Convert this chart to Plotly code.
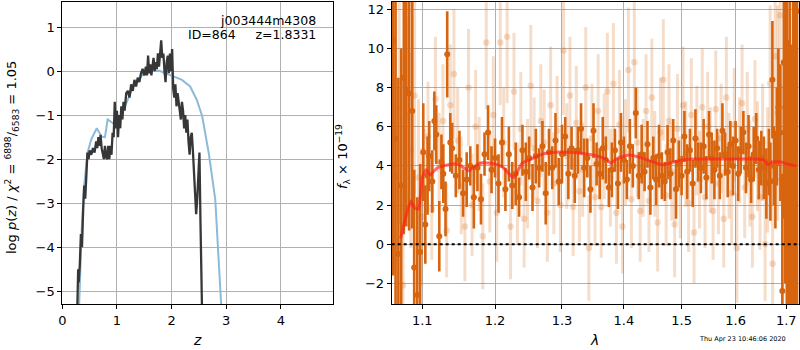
import plotly.graph_objects as go

# ---------------- left panel: p(z) ----------------
pz_z = [0.27, 0.29, 0.30, 0.32, 0.34, 0.36, 0.38, 0.40, 0.42, 0.44, 0.46, 0.48, 0.50, 0.53, 0.56,
        0.59, 0.62, 0.64, 0.66, 0.68, 0.70, 0.72, 0.74, 0.76, 0.78, 0.80, 0.82, 0.84, 0.86, 0.88,
        0.90, 0.92, 0.94, 0.96, 0.98, 1.00, 1.02, 1.04, 1.06, 1.08, 1.10, 1.12, 1.14, 1.17, 1.20,
        1.23, 1.26, 1.29, 1.32, 1.35, 1.38, 1.41, 1.44, 1.47, 1.50, 1.53, 1.55, 1.57, 1.59, 1.61,
        1.63, 1.65, 1.67, 1.69, 1.71, 1.73, 1.75, 1.77, 1.79, 1.81, 1.83, 1.85, 1.87, 1.89, 1.91,
        1.93, 1.95, 1.97, 1.99, 2.01, 2.03, 2.05, 2.07, 2.09, 2.11, 2.13, 2.15, 2.17, 2.19, 2.21,
        2.23, 2.25, 2.27, 2.29, 2.31, 2.33, 2.35, 2.37, 2.39, 2.41, 2.43, 2.45, 2.47, 2.49, 2.51,
        2.53, 2.56]
pz_logp = [-5.6, -4.5, -4.8, -4.4, -3.7, -4.0, -3.2, -2.6, -2.9, -2.1, -1.85, -2.0, -1.8, -1.9, -1.75,
           -1.85, -1.6, -1.75, -1.5, -1.7, -1.45, -1.75, -1.85, -2.0, -1.7, -1.95, -2.0, -1.7, -2.0, -1.7,
           -1.9, -1.4, -1.5, -0.7, -1.3, -0.9, -1.5, -1.0, -1.3, -0.8, -1.1, -0.7, -0.9, -0.5, -0.45,
           -0.6, -0.3, -0.45, -0.2, -0.35, -0.15, -0.25, -0.05, 0.05, -0.1, 0.1, -0.1, 0.35, -0.05, 0.15,
           -0.1, 0.1, 0.3, 0.0, 0.2, 0.05, 0.4, 0.1, 0.45, 0.7, 0.3, 0.4, 0.0, -0.25, 0.2,
           0.35, -0.05, 0.4, 0.0, 0.5, -0.4, -0.6, -0.3, -0.8, -0.5, -0.7, -0.9, -1.1, -0.7, -0.9,
           -1.3, -1.0, -1.4, -1.1, -1.6, -1.9, -1.5, -1.4, -1.8, -2.2, -2.7, -3.25, -2.9, -2.5, -1.85,
           -3.5, -5.6]

prior_z = [0.30, 0.355, 0.40, 0.46, 0.53, 0.63, 0.72, 0.78, 0.83, 0.97, 1.12, 1.30, 1.49, 1.61,
           1.79, 1.98, 2.19, 2.34, 2.46, 2.56, 2.68, 2.80, 2.89, 2.93]
prior_logp = [-5.6, -3.6, -2.6, -1.86, -1.55, -1.3, -1.49, -1.5, -1.1, -1.22, -0.88, -0.35, -0.05, 0.05,
              0.0, -0.1, -0.2, -0.35, -0.65, -1.02, -1.86, -2.92, -5.27, -5.8]

# ---------------- right panel: spectrum ----------------
dark_wave = [1.0625, 1.0654, 1.0690, 1.0726, 1.0760, 1.0792, 1.0829, 1.0869, 1.0894, 1.0934,
             1.0972, 1.1013, 1.1040, 1.1070, 1.1092, 1.1133, 1.1160, 1.1186, 1.1226, 1.1255,
             1.1280, 1.1310, 1.1333, 1.1375,
             1.140, 1.145, 1.150, 1.155, 1.160, 1.165, 1.170, 1.175, 1.180, 1.185,
             1.190, 1.195, 1.200, 1.205, 1.210, 1.215, 1.220, 1.225, 1.230, 1.235,
             1.240, 1.245, 1.250, 1.255, 1.260, 1.265, 1.270, 1.275, 1.280, 1.285,
             1.290, 1.295, 1.300, 1.305, 1.310, 1.315, 1.320, 1.325, 1.330, 1.335,
             1.340, 1.345, 1.350, 1.355, 1.360, 1.365, 1.370, 1.375, 1.380, 1.385,
             1.390, 1.395, 1.400, 1.405, 1.410, 1.415, 1.420, 1.425, 1.430, 1.435,
             1.440, 1.445, 1.450, 1.455, 1.460, 1.465, 1.470, 1.475, 1.480, 1.485,
             1.490, 1.495, 1.500, 1.505, 1.510, 1.515, 1.520, 1.525, 1.530, 1.535,
             1.540, 1.545, 1.550, 1.555, 1.560, 1.565, 1.570, 1.575, 1.580, 1.585,
             1.590, 1.595, 1.600, 1.605, 1.610, 1.615, 1.620, 1.625, 1.630, 1.635,
             1.640, 1.645, 1.650, 1.655, 1.660, 1.665,
             1.668, 1.672, 1.675, 1.678, 1.681, 1.684, 1.688, 1.692, 1.695, 1.698,
             1.701, 1.704, 1.707, 1.710, 1.714, 1.718, 1.722]
dark_flux = [10.4, 5.4, -0.5, 3.0, 8.5, 7.9, 7.7, 6.8, -1.2, -2.6,
             -0.4, 4.7, 1.0, 3.5, 4.5, 3.2, 6.3, 5.6, 0.4, 4.2,
             3.6, 1.8, 9.7, 5.2,
             4.9, 3.5, 4.3, 2.6, 3.3, 4.0, 2.4, 3.9, 2.3, 4.6,
             5.7, 3.8, 4.4, 3.1, 5.2, 2.8, 4.6, 3.0, 3.6, 2.4,
             4.8, 3.7, 4.4, 2.9, 4.5, 3.9, 5.0, 2.6, 4.7, 3.9,
             5.3, 3.2, 4.6, 5.5, 3.6, 4.9, 3.5, 4.8, 5.9, 3.9,
             4.4, 2.8, 5.8, 4.1, 3.6, 4.9, 4.3, 2.9, 3.8, 4.8,
             3.1, 5.2, 4.3, 3.3, 5.0, 4.0, 6.7, 3.5, 4.6, 3.7,
             5.1, 2.9, 4.4, 3.3, 4.5, 3.5, 3.2, 4.7, 3.6, 5.3,
             2.8, 4.1, 3.5, 5.5, 3.7, 4.8, 3.1, 5.4, 4.2, 3.9,
             5.0, 3.4, 5.6, 4.4, 3.8, 4.9, 3.5, 5.8, 4.6, 3.7,
             5.1, 4.0, 5.3, 3.6, 4.8, 5.7, 3.9, 5.0, 3.3, 4.6,
             5.4, 3.8, 4.4, 3.9, 3.1, 4.2,
             3.2, 8.4, 4.0, 3.3, 5.5, 7.0, 5.7, -2.4, 9.3, 7.0,
             3.0, 0.45, 4.0, -1.8, -1.2, 5.0, 11.9]
dark_err = [12, 9, 9, 7, 8, 7, 7, 6, 5, 5,
            4.5, 2.5, 2.0, 2.0, 1.8, 1.6, 1.5, 1.5, 1.8, 1.4,
            1.5, 1.4, 2.2, 1.5,
            1.3, 1.1, 1.5, 1.2, 1.4, 1.0, 1.6, 1.2, 1.3, 1.1,
            1.4, 1.2, 1.0, 1.5, 1.3, 1.1, 1.4, 1.2, 1.6, 1.0,
            1.3, 1.5, 1.1, 1.2, 1.4, 1.0, 1.3, 1.6, 1.2, 1.1,
            1.4, 1.2, 1.5, 1.0, 1.3, 1.1, 1.4, 1.2, 1.3, 1.5,
            1.0, 1.2, 1.4, 1.1, 1.3, 1.6, 1.2, 1.0, 1.4, 1.1,
            1.3, 1.5, 1.2, 1.0, 1.4, 1.1, 1.3, 1.2, 1.5, 1.0,
            1.2, 1.4, 1.1, 1.3, 1.6, 1.2, 1.0, 1.4, 1.3, 1.1,
            1.5, 1.2, 1.0, 1.3, 1.4, 1.1, 1.2, 1.5, 1.0, 1.3,
            1.4, 1.1, 1.2, 1.3, 1.5, 1.0, 1.2, 1.4, 1.1, 1.3,
            1.2, 1.5, 1.0, 1.4, 1.2, 1.1, 1.3, 1.6, 1.2, 1.4,
            1.3, 1.5, 1.4, 1.6, 1.8, 1.7,
            2.0, 3.0, 2.0, 2.5, 2.5, 3.0, 3.5, 6.0, 8.0, 9.0,
            10, 10, 12, 12, 14, 15, 15]

light_wave = [1.0650, 1.0700, 1.0750, 1.0800, 1.0850, 1.0900, 1.0950, 1.0990,
              1.1025, 1.1075, 1.1125, 1.1175, 1.1225, 1.1275, 1.1325, 1.1375, 1.1425, 1.1475,
              1.1525, 1.1575, 1.1625, 1.1675, 1.1725, 1.1775, 1.1825, 1.1875, 1.1925, 1.1975,
              1.2025, 1.2075, 1.2125, 1.2175, 1.2225, 1.2275, 1.2325, 1.2375, 1.2425, 1.2475,
              1.2525, 1.2575, 1.2625, 1.2675, 1.2725, 1.2775, 1.2825, 1.2875, 1.2925, 1.2975,
              1.3025, 1.3075, 1.3125, 1.3175, 1.3225, 1.3275, 1.3325, 1.3375, 1.3425, 1.3475,
              1.3525, 1.3575, 1.3625, 1.3675, 1.3725, 1.3775, 1.3825, 1.3875, 1.3925, 1.3975,
              1.4025, 1.4075, 1.4125, 1.4175, 1.4225, 1.4275, 1.4325, 1.4375, 1.4425, 1.4475,
              1.4525, 1.4575, 1.4625, 1.4675, 1.4725, 1.4775, 1.4825, 1.4875, 1.4925, 1.4975,
              1.5025, 1.5075, 1.5125, 1.5175, 1.5225, 1.5275, 1.5325, 1.5375, 1.5425, 1.5475,
              1.5525, 1.5575, 1.5625, 1.5675, 1.5725, 1.5775, 1.5825, 1.5875, 1.5925, 1.5975,
              1.6025, 1.6075, 1.6125, 1.6175, 1.6225, 1.6275, 1.6325, 1.6375, 1.6425, 1.6475,
              1.6525, 1.6575, 1.6625,
              1.6675, 1.6725, 1.6775, 1.6825, 1.6875, 1.6925, 1.6975, 1.7025, 1.7075, 1.7125, 1.7175]
light_flux = [3.5, 7.0, -2.1, 6.6, 4.8, 7.6, 3.4, 1.4,
              2.9, 5.5, 1.8, 7.4, 4.2, 6.3, 0.7, 7.1, 8.7, 5.3,
              3.0, 0.9, 8.0, 2.0, 6.0, 4.1, 0.4, 10.3, 3.2, 6.6,
              1.6, 10.3, 5.2, 10.6, 0.9, 7.8, 2.6, 5.9, 1.3, 3.6,
              8.1, 4.9, 2.2, 6.3, 5.2, 1.6, 7.1, 3.1, 5.8, 2.0,
              9.9, 4.5, 7.6, 1.9, 6.2, 2.7, 3.8, 8.0, -0.2, 5.4,
              2.4, 6.8, 1.9, 5.0, 7.8, 3.4, 8.2, 1.6, 6.1, 0.9,
              4.7, 8.9, 2.3, 9.3, 5.2, 1.7, 3.9, 6.8, 2.2, 7.5,
              4.1, 1.1, 5.7, 8.4, 2.5, 6.3, 3.7, 1.0, 5.9, 2.9,
              7.1, 4.6, 2.1, 6.6, 0.6, 5.3, 3.3, 7.0, 2.4, 6.0,
              4.3, 1.7, 6.9, 3.1, 5.4, 1.3, 7.5, 4.0, 2.6, 6.1,
              -0.2, 4.8, 7.2, 2.9, 5.9, 3.6, 1.4, 6.4, 4.5, 2.4,
              5.2, 0.0, 3.8,
              8.2, -1.0, 9.6, 6.7, 11.7, 2.1, 9.2, 5.0, 8.4, -0.5, 7.3]
light_err = [5.0, 6.0, 5.0, 5.0, 5.0, 5.0, 4.0, 3.5,
             3.0, 2.8, 2.6, 3.2, 2.5, 2.9, 2.4, 3.1, 3.3, 2.7,
             2.5, 2.8, 3.0, 2.6, 2.9, 2.4, 2.7, 3.4, 2.6, 3.0,
             2.5, 3.2, 2.8, 3.4, 2.7, 3.0, 2.6, 2.9, 2.5, 2.8,
             3.1, 2.6, 2.4, 2.9, 2.7, 2.5, 3.0, 2.6, 2.8, 2.4,
             3.3, 2.7, 3.0, 2.5, 2.9, 2.6, 2.4, 3.1, 2.7, 2.8,
             2.5, 2.9, 2.6, 2.7, 3.0, 2.5, 3.1, 2.6, 2.8, 2.4,
             2.7, 3.2, 2.5, 3.3, 2.8, 2.6, 2.5, 2.9, 2.6, 3.0,
             2.7, 2.5, 2.8, 3.1, 2.6, 2.9, 2.5, 2.7, 2.8, 2.6,
             3.0, 2.7, 2.5, 2.9, 2.6, 2.8, 2.5, 3.0, 2.6, 2.8,
             2.7, 2.5, 3.0, 2.6, 2.8, 2.5, 3.1, 2.7, 2.6, 2.9,
             2.8, 2.7, 3.0, 2.6, 2.9, 2.7, 2.6, 3.0, 2.8, 2.7,
             3.0, 2.9, 3.2,
             4.0, 5.0, 5.0, 5.5, 6.0, 6.0, 6.5, 7.0, 7.0, 7.5, 8.0]

model_wave = [1.072, 1.078, 1.085, 1.090, 1.095, 1.100, 1.105, 1.110, 1.120, 1.140, 1.150, 1.163,
              1.170, 1.180, 1.200, 1.210, 1.222, 1.227, 1.240, 1.250, 1.270, 1.290, 1.310, 1.330,
              1.350, 1.370, 1.378, 1.390, 1.410, 1.430, 1.450, 1.466, 1.480, 1.500, 1.520, 1.550,
              1.600, 1.640, 1.655, 1.663, 1.672, 1.690, 1.700, 1.710, 1.720]
model_flux = [0.3, 1.3, 2.2, 1.85, 1.8, 3.4, 3.8, 3.55, 3.9, 4.1, 4.05, 3.75,
              3.95, 4.15, 4.1, 3.95, 3.55, 3.4, 4.15, 4.3, 4.6, 4.7, 4.7, 4.65,
              4.55, 4.35, 4.15, 4.4, 4.55, 4.4, 4.2, 4.05, 4.15, 4.3, 4.35, 4.35,
              4.35, 4.35, 4.3, 4.05, 4.2, 4.2, 4.1, 4.05, 4.0]

lam_ticks = [1.1, 1.2, 1.3, 1.4, 1.5, 1.6, 1.7]

# ---------------- figure ----------------
FONT = "DejaVu Sans"
ORANGE = "rgb(215,100,14)"
ORANGE_L = "rgba(215,100,14,0.22)"
GRID = "#b0b0b0"

fig = go.Figure()

fig.add_trace(go.Scatter(x=prior_z, y=prior_logp, mode="lines",
                         line=dict(color="rgb(140,186,217)", width=2),
                         xaxis="x", yaxis="y", hoverinfo="skip"))
fig.add_trace(go.Scatter(x=pz_z, y=pz_logp, mode="lines",
                         line=dict(color="rgb(55,55,55)", width=2.3),
                         xaxis="x", yaxis="y", hoverinfo="skip"))

fig.add_trace(go.Scatter(x=light_wave, y=light_flux, mode="markers",
                         marker=dict(color=ORANGE_L, size=6.5, line=dict(width=0)),
                         error_y=dict(type="data", array=light_err, color=ORANGE_L,
                                      thickness=3, width=0),
                         xaxis="x2", yaxis="y2", hoverinfo="skip"))
fig.add_trace(go.Scatter(x=dark_wave, y=dark_flux, mode="markers",
                         marker=dict(color=ORANGE, size=6, line=dict(width=0)),
                         error_y=dict(type="data", array=dark_err, color=ORANGE,
                                      thickness=2.6, width=0),
                         xaxis="x2", yaxis="y2", hoverinfo="skip"))
fig.add_trace(go.Scatter(x=model_wave, y=model_flux, mode="lines",
                         line=dict(color="rgba(255,30,30,0.65)", width=3, shape="spline",
                                   smoothing=0.5),
                         xaxis="x2", yaxis="y2", hoverinfo="skip"))

fig.add_shape(type="line", xref="x2 domain", yref="y2", x0=0, x1=1, y0=0, y1=0,
              line=dict(color="black", width=2, dash="dot"))

axis_common = dict(showline=True, linecolor="black", linewidth=1, mirror=True,
                   showgrid=True, gridcolor=GRID, gridwidth=1, zeroline=False,
                   ticks="outside", ticklen=4, tickcolor="black",
                   tickfont=dict(family=FONT, size=13, color="black"), automargin=False)

fig.update_layout(
    width=800, height=350,
    margin=dict(l=0, r=0, t=0, b=0),
    paper_bgcolor="white", plot_bgcolor="white",
    showlegend=False,
    font=dict(family=FONT, color="black"),
    xaxis=dict(domain=[0.0779, 0.4166], range=[0, 4.96], tickvals=[0, 1, 2, 3, 4],
               anchor="y", **axis_common),
    yaxis=dict(domain=[0.1314, 0.9951], range=[-5.29, 1.575], tickvals=[-5, -4, -3, -2, -1, 0, 1],
               anchor="x", **axis_common),
    xaxis2=dict(domain=[0.4896, 0.9991], type="log", range=[0.0255, 0.2372],
                tickvals=lam_ticks, ticktext=[f"{v:.1f}" for v in lam_ticks],
                anchor="y2", **axis_common),
    yaxis2=dict(domain=[0.1314, 0.9951], range=[-3.06, 12.39], tickvals=[-2, 0, 2, 4, 6, 8, 10, 12],
                anchor="x2", **axis_common),
)

ann = [
    dict(x=318, y=20, text="j003444m4308", xanchor="right", font_size=12.5),
    dict(x=318, y=35, text="ID=864     z=1.8331", xanchor="right", font_size=12.5),
    dict(x=197, y=340, text="<i>z</i>", xanchor="center", font_size=14),
    dict(x=594, y=340, text="<i>λ</i>", xanchor="center", font_size=14),
    dict(x=12, y=158, text="log <i>p</i>(<i>z</i>) / <i>χ</i><sup>2</sup> = <sup>6898</sup>/<sub>6583</sub> = 1.05",
         xanchor="center", textangle=-90, font_size=13),
    dict(x=343, y=157, text="<i>f</i><sub>λ</sub> × 10<sup>−19</sup>",
         xanchor="center", textangle=-90, font_size=13),
    dict(x=742, y=339, text="Thu Apr 23 10:46:06 2020", xanchor="center", font_size=6.5),
]
for a in ann:
    fig.add_annotation(xref="paper", yref="paper", x=a["x"] / 800, y=1 - a["y"] / 350,
                       text=a["text"], showarrow=False, xanchor=a["xanchor"], yanchor="middle",
                       textangle=a.get("textangle", 0),
                       font=dict(family=FONT, size=a["font_size"], color="black"))

fig.write_html("out.html", config={"displayModeBar": False},
               post_script="document.body.style.margin='0';document.body.style.padding='0';")
